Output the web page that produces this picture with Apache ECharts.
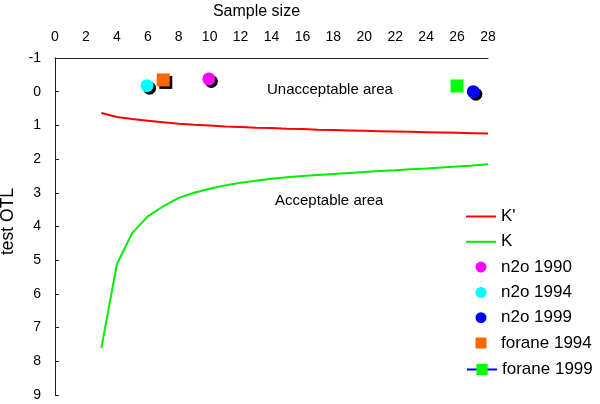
<!DOCTYPE html>
<html>
<head>
<meta charset="utf-8">
<script src="https://cdn.jsdelivr.net/npm/echarts@6/dist/echarts.min.js"></script>
<style>html,body{margin:0;padding:0;background:#fff}#c{width:600px;height:404px}</style>
</head>
<body>
<div id="c"></div>
<script>
const sampleSize = [3,4,5,6,7,8,9,10,11,12,13,14,15,16,17,18,19,20,21,22,23,24,25,26,27,28];
const kPrime = [0.63,0.75,0.81,0.86,0.91,0.95,0.98,1.0,1.03,1.05,1.07,1.08,1.10,1.11,1.13,1.14,1.15,1.16,1.17,1.18,1.19,1.20,1.21,1.22,1.23,1.24];
const kVals = [7.6,5.12,4.19,3.7,3.4,3.15,3.0,2.88,2.78,2.7,2.64,2.58,2.54,2.5,2.47,2.44,2.41,2.38,2.35,2.33,2.3,2.28,2.25,2.22,2.19,2.15];
const n2o1990 = [[9.95,-0.38]];
const n2o1994 = [[5.95,-0.18]];
const n2o1999 = [[27.05,0.0]];
const forane1994 = [[7.0,-0.35]];
const forane1999 = [[26.0,-0.17]];
const xTicks = {min:0, max:28, interval:2};
const yTicks = {min:-1, max:9, interval:1};

const font = 'Liberation Sans, Arial, sans-serif';
const shadow = {opacity:1, shadowColor:'#000', shadowBlur:0, shadowOffsetX:2.5, shadowOffsetY:2.5};
const lineIcon = 'path://M0,0 L30,0 L30,2 L0,2 Z';
const squareIcon = 'path://M0,0 L10,0 L10,10 L0,10 Z';
const noShadow = {opacity:1, shadowBlur:0, shadowOffsetX:0, shadowOffsetY:0, shadowColor:'rgba(0,0,0,0)'};
const chart = echarts.init(document.getElementById('c'));
chart.setOption({
  animation:false,
  textStyle:{fontFamily:font},
  grid:{left:55, top:58, right:112, bottom:9, containLabel:false, outerBoundsMode:'none'},
  xAxis:{type:'value', position:'top', min:xTicks.min, max:xTicks.max, interval:xTicks.interval,
    name:'Sample size', nameLocation:'middle', nameGap:38,
    nameTextStyle:{fontSize:16, color:'#000', fontFamily:font, padding:[0,30,0,0]},
    axisLine:{show:true, onZero:false, lineStyle:{color:'#222', width:1}}, axisTick:{show:false},
    axisLabel:{fontSize:14, color:'#000', margin:14, fontFamily:font}, splitLine:{show:false}},
  yAxis:{type:'value', inverse:true, min:yTicks.min, max:yTicks.max, interval:yTicks.interval,
    name:'test OTL', nameLocation:'middle', nameGap:36, nameRotate:90,
    nameTextStyle:{fontSize:17.5, color:'#000', fontFamily:font, padding:[0,0,0,10]},
    axisLine:{show:true, onZero:false, lineStyle:{color:'#222', width:1}},
    axisTick:{show:true, inside:true, length:4, lineStyle:{color:'#222'}},
    axisLabel:{fontSize:14, color:'#000', margin:14, fontFamily:font}, splitLine:{show:false}},
  legend:[
    {orient:'vertical', left:461, top:203, itemWidth:30, itemHeight:11, itemGap:8.3,
     textStyle:{fontSize:17, color:'#000', fontFamily:font},
     itemStyle:noShadow,
     data:[{name:"K'", icon:lineIcon},{name:'K', icon:lineIcon},
           {name:'n2o 1990', icon:'circle'},{name:'n2o 1994', icon:'circle'},{name:'n2o 1999', icon:'circle'},
           {name:'forane 1994', icon:squareIcon}]},
    {orient:'vertical', left:461, top:356, itemWidth:30, itemHeight:14, itemGap:8,
     textStyle:{fontSize:17, color:'#000', fontFamily:font},
     itemStyle:noShadow,
     data:['forane 1999']}
  ],
  graphic:[
    {type:'text', left:267, top:82, style:{text:'Unacceptable area', fill:'#000', font:'15px '+font}},
    {type:'text', left:275, top:193, style:{text:'Acceptable area', fill:'#000', font:'15px '+font}}
  ],
  series:[
    {name:"K'", type:'line', symbol:'none', data:sampleSize.map((x,i)=>[x,kPrime[i]]), lineStyle:{color:'#ff0000', width:2}, itemStyle:{color:'#ff0000'}},
    {name:'K', type:'line', symbol:'none', data:sampleSize.map((x,i)=>[x,kVals[i]]), lineStyle:{color:'#00ee00', width:2}, itemStyle:{color:'#00ee00'}},
    {name:'n2o 1990', type:'scatter', symbol:'circle', symbolSize:13, data:n2o1990, itemStyle:Object.assign({color:'#ff00ff'}, shadow)},
    {name:'n2o 1994', type:'scatter', symbol:'circle', symbolSize:13, data:n2o1994, itemStyle:Object.assign({color:'#00ffff'}, shadow)},
    {name:'n2o 1999', type:'scatter', symbol:'circle', symbolSize:13, data:n2o1999, itemStyle:Object.assign({color:'#0000ff'}, shadow)},
    {name:'forane 1994', type:'scatter', symbol:'rect', symbolSize:13, data:forane1994, itemStyle:Object.assign({color:'#ff6600'}, shadow)},
    {name:'forane 1999', type:'line', symbol:'rect', symbolSize:13, showSymbol:true, data:forane1999, lineStyle:{color:'#0000ff', width:1}, itemStyle:{color:'#00ff00', opacity:1}}
  ]
});
</script>
</body>
</html>
